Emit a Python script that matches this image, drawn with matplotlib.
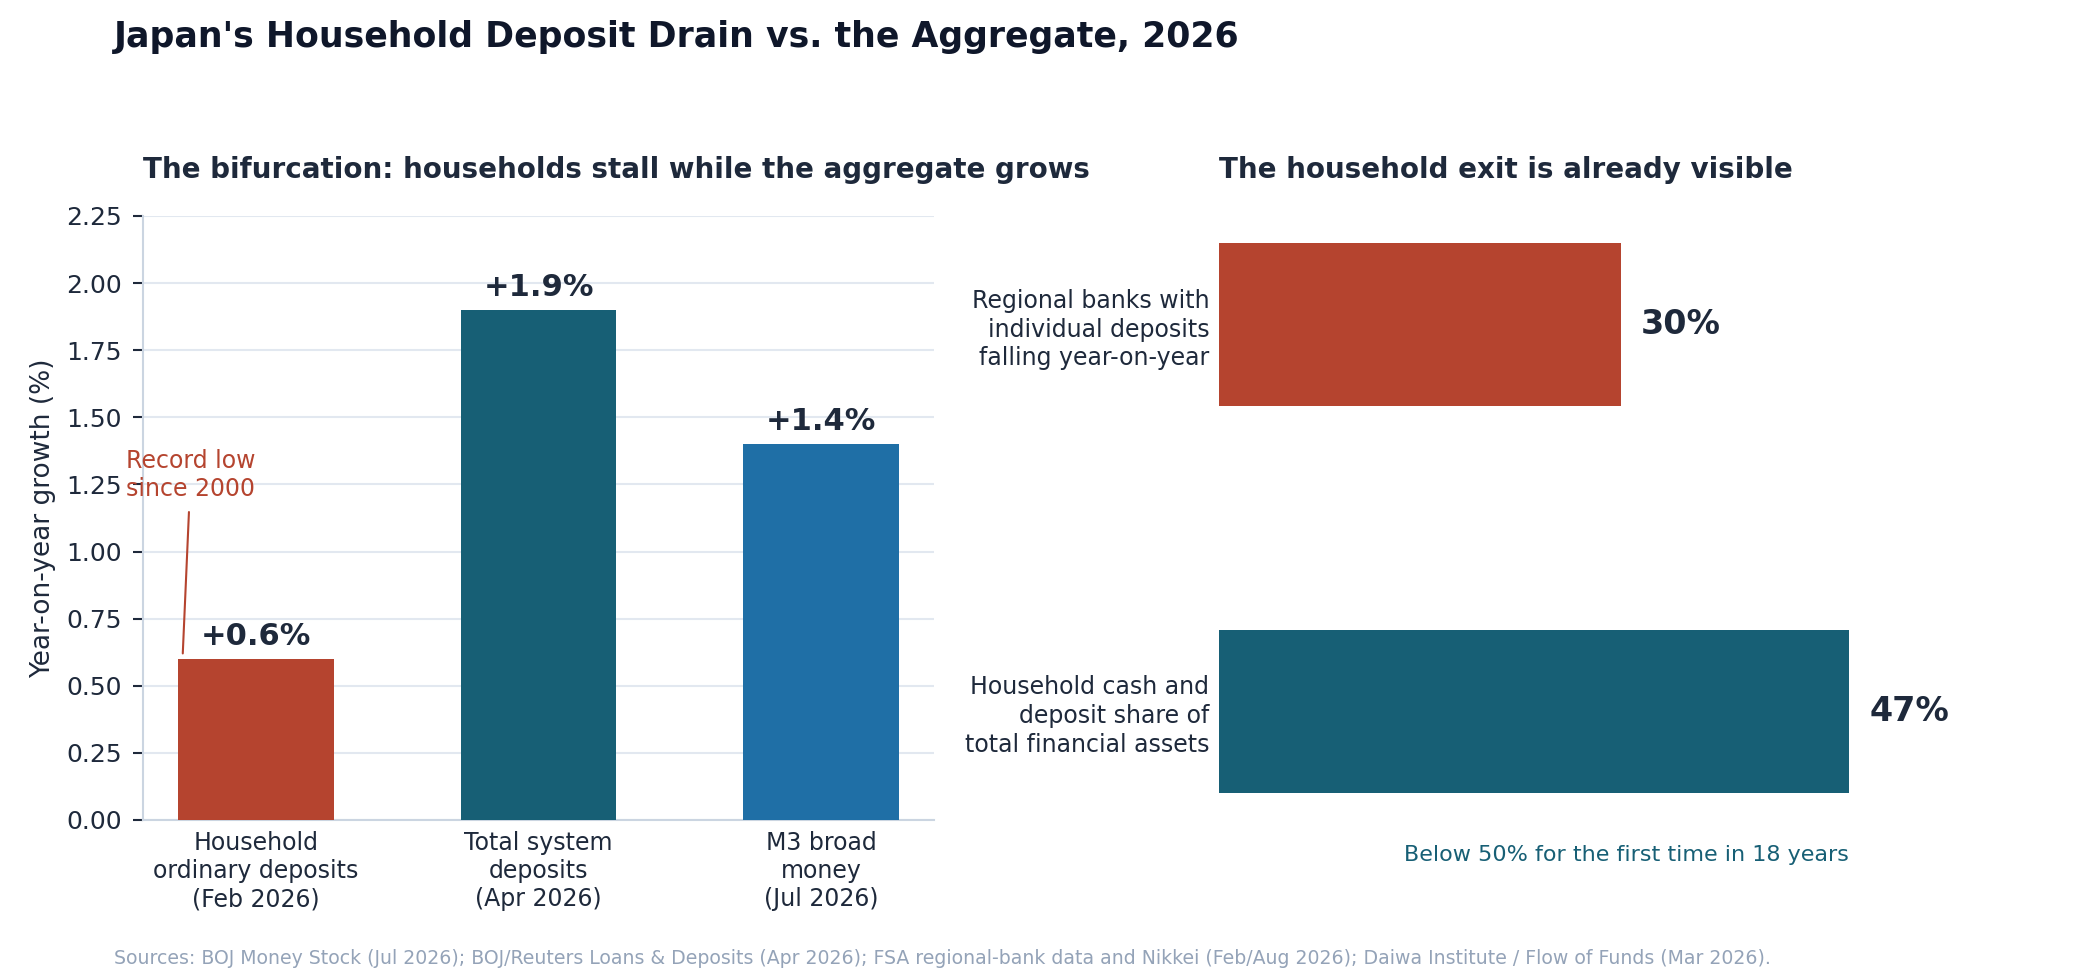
import matplotlib
matplotlib.use("Agg")
import matplotlib.pyplot as plt

# left panel: year-on-year growth
growth_labels = [
    "Household\nordinary deposits\n(Feb 2026)",
    "Total system\ndeposits\n(Apr 2026)",
    "M3 broad\nmoney\n(Jul 2026)",
]
growth_values = [0.6, 1.9, 1.4]
growth_text = ["+0.6%", "+1.9%", "+1.4%"]

# right panel: household exit shares
share_labels = [
    "Regional banks with\nindividual deposits\nfalling year-on-year",
    "Household cash and\ndeposit share of\ntotal financial assets",
]
share_values = [30, 47]

RED = "#b5442f"
TEAL = "#175f75"
BLUE = "#1f6fa6"
DARK = "#1e293b"
TITLE = "#0f172a"
MUTED = "#94a3b8"
GRID = "#e2e8f0"
SPINE = "#cbd5e1"

plt.rcParams["font.family"] = ["DejaVu Sans"]

fig = plt.figure(figsize=(20.8, 9.8), dpi=100)
ax1 = fig.add_axes([0.0688, 0.1633, 0.3803, 0.6163])
ax2 = fig.add_axes([0.586, 0.1633, 0.3803, 0.6163])

# ---- left: bars
x = list(range(len(growth_values)))
ax1.bar(x, growth_values, width=0.55, color=[RED, TEAL, BLUE], zorder=3)
for xi, v, t in zip(x, growth_values, growth_text):
    ax1.text(xi, v + 0.03, t, ha="center", va="bottom",
             fontsize=22, fontweight="bold", color=DARK, zorder=4)

ax1.set_xlim(-0.4, 2.4)
ax1.set_ylim(0, 2.25)
ax1.set_yticks([i * 0.25 for i in range(10)])
ax1.set_xticks(x)
ax1.set_xticklabels(growth_labels, fontsize=17, color=DARK, linespacing=1.22)
ax1.tick_params(axis="x", length=0, pad=8)
ax1.tick_params(axis="y", labelsize=18, colors=DARK, length=7, width=1.5, pad=8.5)
ax1.yaxis.grid(True, color=GRID, linewidth=1.5, zorder=0)
ax1.set_axisbelow(True)
for s in ["top", "right"]:
    ax1.spines[s].set_visible(False)
for s in ["left", "bottom"]:
    ax1.spines[s].set_color(SPINE)
    ax1.spines[s].set_linewidth(1.5)
ax1.set_ylabel("Year-on-year growth (%)", fontsize=19, color=DARK, labelpad=7)
ax1.set_title("The bifurcation: households stall while the aggregate grows",
              loc="left", fontsize=20, fontweight="bold", color=DARK, pad=27)

ax1.annotate("Record low\nsince 2000", xy=(-0.26, 0.61), xytext=(-0.232, 1.285),
             ha="center", va="center", fontsize=17, color=RED,
             arrowprops=dict(arrowstyle="-", color=RED, lw=1.5, shrinkA=6),
             annotation_clip=False, zorder=5)

# ---- right: horizontal bars
y = list(range(len(share_values)))
ax2.barh(y, share_values, height=0.42, color=[RED, TEAL])
ax2.invert_yaxis()
ax2.set_xlim(0, 59)
for yi, v in zip(y, share_values):
    ax2.text(v + 1.5, yi, f"{v}%", ha="left", va="center",
             fontsize=24, fontweight="bold", color=DARK)
ax2.set_yticks(y)
ax2.set_yticklabels(share_labels, fontsize=17, color=DARK, linespacing=1.25)
ax2.tick_params(axis="y", length=0, pad=7)
ax2.set_xticks([])
for s in ax2.spines.values():
    s.set_visible(False)
ax2.text(share_values[1], 1.345, "Below 50% for the first time in 18 years",
         ha="right", va="top", fontsize=16, color=TEAL, clip_on=False)
ax2.set_title("The household exit is already visible",
              loc="left", fontsize=20, fontweight="bold", color=DARK, pad=27)

fig.text(0.0548, 0.962, "Japan's Household Deposit Drain vs. the Aggregate, 2026",
         ha="left", va="center", fontsize=25, fontweight="bold", color=TITLE)
fig.text(0.0548, 0.0215,
         "Sources: BOJ Money Stock (Jul 2026); BOJ/Reuters Loans & Deposits (Apr 2026); "
         "FSA regional-bank data and Nikkei (Feb/Aug 2026); Daiwa Institute / Flow of Funds (Mar 2026).",
         ha="left", va="center", fontsize=13.6, color=MUTED)

fig.savefig("out.png", dpi=100)
